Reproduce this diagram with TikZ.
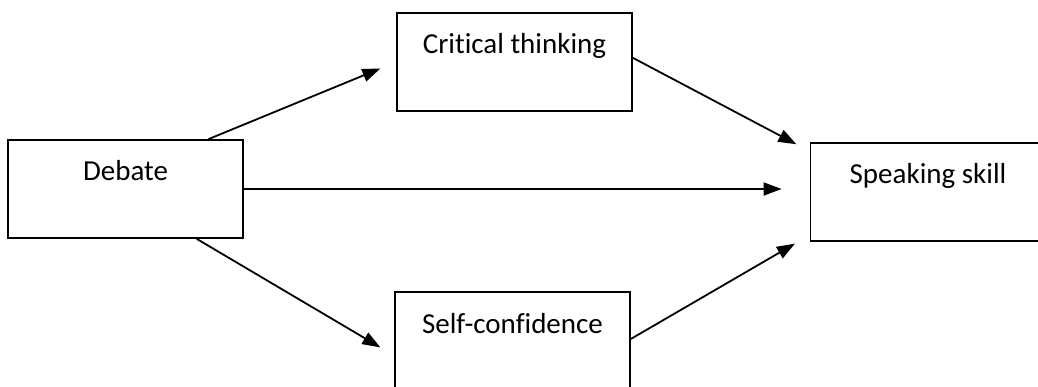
\documentclass[tikz,border=0pt]{standalone}
\usepackage{fontspec}
\setmainfont{Carlito}[Ligatures=NoCommon]
\usetikzlibrary{arrows.meta}
\begin{document}
\begin{tikzpicture}[x=1pt,y=-1pt,line width=1.8pt,
    box/.style={draw,rectangle,inner sep=0pt,minimum width=235pt,minimum height=98pt,
      text height=41pt,text depth=57pt,font=\fontsize{29}{34}\selectfont},
    arr/.style={-{Triangle[length=18pt,width=13pt]}}]
  \clip(0,0)rectangle(1038,387);
  \node[box](debate)at(125.5,189){Debate};
  \node[box](critical)at(514.5,62){Critical thinking};
  \node[box](selfconf)at(512.5,341){Self-confidence};
  \node[box](speaking)at(928,192){Speaking skill};
  \draw[arr,shorten >=17pt](debate.31)--(critical.west);
  \draw[arr,shorten >=16pt](debate.-35)--(selfconf.187);
  \draw[arr,shorten >=28pt](debate.east)--(debate.east-|speaking.west);
  \draw[arr,shorten >=15pt](critical.2)--(speaking.161);
  \draw[arr,shorten >=17pt](selfconf.1)--(speaking.200);
\end{tikzpicture}
\end{document}
